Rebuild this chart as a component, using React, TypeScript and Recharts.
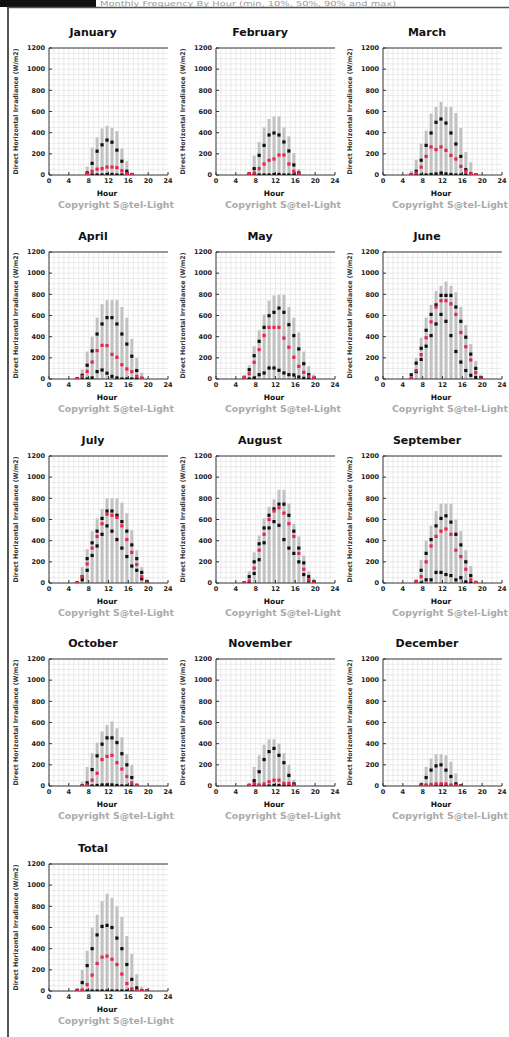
import React from 'react';
import { ComposedChart, Bar, Scatter, XAxis, YAxis, CartesianGrid } from 'recharts';

// one entry per panel, January .. December, then Total
const panelTitles = [
  'January', 'February', 'March', 'April', 'May', 'June',
  'July', 'August', 'September', 'October', 'November', 'December', 'Total',
];

// first hour bin that has data in each panel
const firstHour = [7, 6, 5, 5, 5, 5, 5, 5, 6, 6, 6, 7, 5];

// markers sit a bit to the right of the hour line
const binOffset = 0.7;

const maxValues: number[][] = [
  [80, 260, 355, 440, 465, 445, 415, 250, 130, 10],
  [10, 183, 312, 450, 529, 554, 554, 450, 365, 208, 57],
  [40, 145, 296, 419, 580, 643, 690, 643, 643, 586, 444, 217, 120, 19],
  [20, 90, 260, 400, 580, 710, 745, 745, 745, 680, 580, 380, 200, 60],
  [30, 130, 310, 460, 610, 740, 790, 795, 795, 680, 580, 440, 260, 120, 40],
  [45, 200, 390, 580, 700, 830, 880, 920, 880, 820, 680, 510, 330, 170, 40],
  [10, 150, 320, 490, 610, 700, 800, 800, 800, 760, 660, 500, 310, 150, 40],
  [10, 110, 290, 450, 610, 720, 790, 880, 880, 750, 560, 440, 260, 110, 40],
  [40, 220, 400, 540, 680, 750, 750, 750, 600, 490, 310, 160, 20],
  [40, 180, 310, 410, 515, 575, 610, 545, 460, 300, 200, 30],
  [30, 180, 290, 390, 440, 440, 400, 310, 200, 60],
  [40, 180, 260, 300, 300, 290, 230, 120, 20],
  [30, 200, 380, 600, 720, 850, 920, 880, 800, 700, 520, 350, 160, 40, 10],
];

const p90Values: number[][] = [
  [20, 110, 225, 285, 330, 310, 235, 130, 35, 5],
  [12, 60, 186, 280, 378, 397, 378, 312, 227, 95, 20],
  [0, 35, 139, 280, 397, 498, 529, 491, 397, 293, 176, 50, 12, 3],
  [0, 35, 130, 265, 425, 520, 580, 580, 520, 425, 330, 215, 80, 6],
  [15, 88, 220, 356, 488, 598, 630, 670, 630, 513, 410, 284, 145, 41, 6],
  [40, 150, 290, 460, 610, 700, 790, 790, 790, 680, 545, 395, 235, 100, 10],
  [0, 60, 230, 380, 490, 610, 680, 680, 640, 580, 490, 360, 230, 100, 10],
  [0, 60, 200, 370, 520, 640, 700, 745, 745, 640, 490, 330, 190, 60, 10],
  [10, 120, 280, 410, 540, 610, 635, 575, 460, 360, 200, 70, 5],
  [0, 30, 155, 285, 395, 455, 455, 410, 305, 200, 80, 5],
  [5, 50, 135, 250, 325, 355, 290, 220, 100, 20],
  [10, 80, 150, 190, 200, 150, 90, 20, 0],
  [5, 80, 240, 400, 530, 610, 620, 600, 500, 400, 250, 110, 30, 0, 0],
];

const p50Values: number[][] = [
  [10, 35, 55, 60, 75, 75, 70, 40, 15, 5],
  [12, 19, 60, 104, 139, 151, 189, 189, 104, 35, 12],
  [0, 20, 75, 176, 265, 240, 265, 233, 186, 151, 82, 35, 12, 3],
  [0, 25, 72, 160, 268, 318, 315, 233, 205, 135, 95, 69, 25, 6],
  [15, 50, 158, 277, 410, 488, 488, 488, 387, 300, 205, 120, 63, 25, 6],
  [5, 80, 230, 390, 540, 680, 740, 740, 710, 610, 440, 305, 180, 60, 0],
  [0, 60, 180, 330, 440, 560, 650, 640, 620, 540, 410, 290, 175, 60, 0],
  [0, 20, 140, 310, 460, 600, 680, 710, 660, 560, 440, 280, 130, 30, 0],
  [10, 60, 200, 350, 440, 490, 510, 460, 310, 250, 130, 30, 5],
  [0, 10, 55, 120, 250, 280, 290, 220, 160, 90, 30, 5],
  [5, 20, 10, 20, 40, 55, 55, 25, 25, 10],
  [0, 10, 15, 20, 20, 20, 10, 5, 0],
  [0, 10, 60, 150, 260, 320, 330, 300, 250, 160, 70, 20, 5, 0, 0],
];

const p10Values: number[][] = [
  [0, 0, 0, 0, 5, 5, 0, 0, 0, 0],
  [0, 0, 0, 0, 0, 5, 5, 0, 0, 0, 0],
  [0, 0, 0, 0, 5, 10, 19, 10, 5, 0, 0, 0, 0, 0],
  [0, 0, 0, 10, 70, 85, 55, 25, 10, 0, 0, 0, 0, 0],
  [0, 0, 10, 41, 57, 104, 104, 82, 57, 41, 38, 19, 6, 0, 0],
  [0, 70, 185, 310, 410, 520, 610, 545, 410, 260, 160, 80, 35, 15, 0],
  [0, 30, 120, 260, 350, 460, 540, 490, 410, 330, 250, 160, 120, 40, 0],
  [0, 0, 90, 220, 380, 520, 580, 545, 410, 330, 280, 200, 80, 20, 0],
  [0, 0, 30, 30, 100, 100, 80, 70, 30, 50, 10, 0, 0],
  [0, 0, 0, 5, 10, 10, 10, 5, 0, 0, 0, 0],
  [0, 0, 0, 0, 0, 5, 5, 0, 0, 0],
  [0, 0, 0, 0, 0, 0, 0, 0, 0],
  [0, 0, 0, 0, 0, 0, 0, 0, 0, 0, 0, 0, 0, 0, 0],
];

const hourTicks = [0, 4, 8, 12, 16, 20, 24];
const irrTicks = [0, 200, 400, 600, 800, 1000, 1200];
const gridHours = [1, 2, 3, 5, 6, 7, 9, 10, 11, 13, 14, 15, 17, 18, 19, 21, 22, 23, 4, 8, 12, 16, 20];
const gridIrr = [50, 100, 150, 250, 300, 350, 450, 500, 550, 650, 700, 750, 850, 900, 950, 1050, 1100, 1150, 200, 400, 600, 800, 1000];

const colLeft = [3, 170, 337];
const rowTop = [20, 224, 428, 631, 836];

const font = '"DejaVu Sans", Verdana, sans-serif';
const frameColor = '#333';

const square = (color: string) => (props: any) => (
  <rect x={props.cx - 1.6} y={props.cy - 1.6} width={3.2} height={3.2} fill={color} />
);

function Panel({ idx }: { idx: number }) {
  const data = maxValues[idx].map((m, i) => ({
    hour: firstHour[idx] + i + binOffset,
    max: m,
    p90: p90Values[idx][i],
    p50: p50Values[idx][i],
    p10: p10Values[idx][i],
  }));
  const left = colLeft[idx % 3];
  const top = rowTop[Math.floor(idx / 3)];
  const tickStyle = { fontSize: 6.5, fill: '#222', fontFamily: font, fontWeight: 'bold' as const };

  return (
    <div style={{ position: 'absolute', left, top, width: 170, height: 204 }}>
      <ComposedChart width={170} height={204} data={data} margin={{ top: 28, right: 5, bottom: 29, left: 16 }}>
        <CartesianGrid xAxisId="b" yAxisId="l" stroke="#e2e2e2" strokeWidth={0.7}
          verticalValues={gridHours} horizontalValues={gridIrr} />
        <XAxis xAxisId="b" dataKey="hour" type="number" domain={[0, 24]} ticks={hourTicks} interval={0}
          allowDataOverflow height={20} tickSize={-3} tickMargin={6} stroke={frameColor} tick={tickStyle} />
        <XAxis xAxisId="t" orientation="top" mirror type="number" domain={[0, 24]} ticks={hourTicks} interval={0}
          allowDataOverflow tick={false} tickSize={3} stroke={frameColor} />
        <YAxis yAxisId="l" type="number" domain={[0, 1200]} ticks={irrTicks} interval={0} allowDataOverflow
          width={30} tickSize={-3} tickMargin={7} stroke={frameColor} tick={tickStyle} />
        <YAxis yAxisId="r" orientation="right" mirror type="number" domain={[0, 1200]} ticks={irrTicks} interval={0}
          allowDataOverflow width={0} tick={false} tickSize={3} stroke={frameColor} />
        <Bar xAxisId="b" yAxisId="l" dataKey="max" fill="#c2c2c2" barSize={3} isAnimationActive={false} />
        <Scatter xAxisId="b" yAxisId="l" dataKey="p10" shape={square('#111')} isAnimationActive={false} />
        <Scatter xAxisId="b" yAxisId="l" dataKey="p90" shape={square('#111')} isAnimationActive={false} />
        <Scatter xAxisId="b" yAxisId="l" dataKey="p50" shape={square('#e8264e')} isAnimationActive={false} />
      </ComposedChart>
      <svg width={170} height={204} style={{ position: 'absolute', left: 0, top: 0, pointerEvents: 'none', overflow: 'visible' }}>
        <text x={90} y={12} textAnchor="middle" dominantBaseline="central" fontFamily={font}
          fontWeight="bold" fontSize={11} fill="#111">{panelTitles[idx]}</text>
        <text x={13} y={91.5} textAnchor="middle" dominantBaseline="central" fontFamily={font}
          fontWeight="bold" fontSize={6.5} fill="#333" textLength={126} lengthAdjust="spacingAndGlyphs"
          transform="rotate(-90 13 91.5)">Direct Horizontal Irradiance (W/m2)</text>
        <text x={104} y={173} textAnchor="middle" dominantBaseline="central" fontFamily={font}
          fontWeight="bold" fontSize={7.5} fill="#111">Hour</text>
        <text x={113} y={185} textAnchor="middle" dominantBaseline="central" fontFamily={font}
          fontWeight="bold" fontSize={8.5} fill="#aaa" textLength={116} lengthAdjust="spacingAndGlyphs">Copyright  S@tel-Light</text>
      </svg>
    </div>
  );
}

export default function App() {
  return (
    <div style={{ position: 'absolute', left: 0, top: 0, width: 509, height: 1037, background: '#fff', overflow: 'hidden' }}>
      <svg width={509} height={1037} style={{ position: 'absolute', left: 0, top: 0 }}>
        <rect x={0} y={0} width={96} height={7} fill="#111" />
        <text x={100} y={6} fontFamily={font} fontSize={7} fill="#999" textLength={296} lengthAdjust="spacingAndGlyphs">
          Monthly Frequency By Hour (min, 10%, 50%, 90% and max)
        </text>
        <line x1={8} y1={7.5} x2={509} y2={7.5} stroke="#555" strokeWidth={1.5} />
        <line x1={8} y1={7} x2={8} y2={1037} stroke="#555" strokeWidth={2} />
      </svg>
      {panelTitles.map((_, i) => <Panel key={i} idx={i} />)}
    </div>
  );
}
